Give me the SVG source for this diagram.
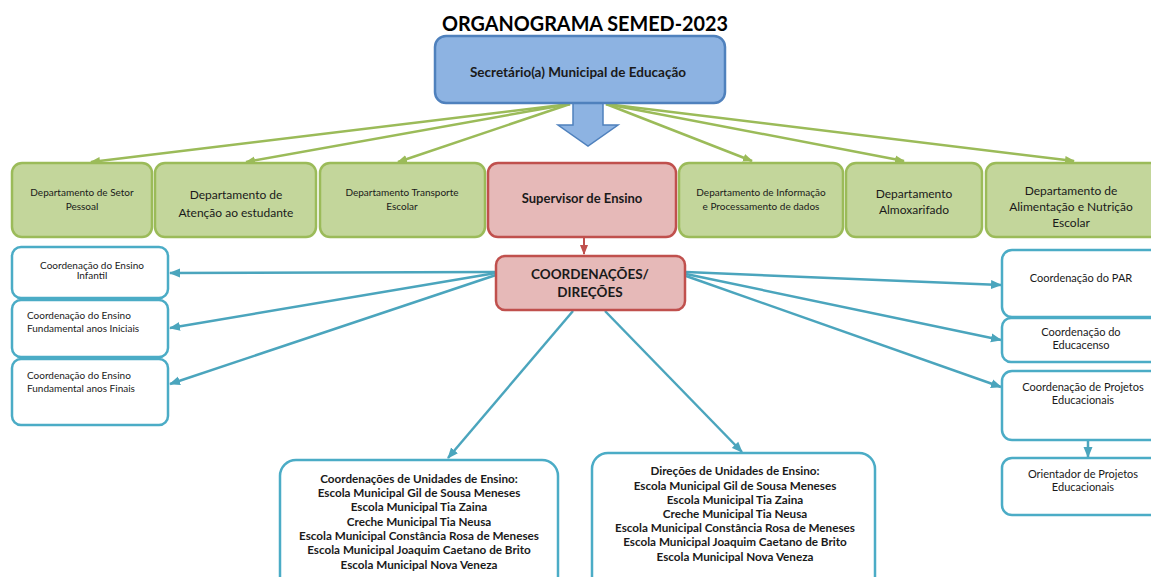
<svg xmlns="http://www.w3.org/2000/svg" width="1151" height="577" viewBox="0 0 1151 577">
<defs>
<style>
text{font-family:Lato,"Open Sans","Liberation Sans",sans-serif;fill:#1a1a1a;text-anchor:middle}
.title{font-size:20px;font-weight:bold;fill:#000}
.b13{font-size:13.5px;font-weight:bold}
.b12{font-size:13px;font-weight:bold}
.n12{font-size:12px}
.n10{font-size:10px}
.n11{font-size:11px}
.b11{font-size:11.7px;font-weight:bold}
.b15{font-size:13.5px;font-weight:bold}
.green{fill:#c3d69b;stroke:#9bbb59;stroke-width:2.5}
.red{fill:#e6b9b8;stroke:#c0504d;stroke-width:2.5}
.blue{fill:#8db3e2;stroke:#4f81bd;stroke-width:2.5}
.teal{fill:#fff;stroke:#4bacc6;stroke-width:2.5}
.gl{stroke:#9bbb59;stroke-width:2.5;fill:none}
.tl{stroke:#4ba5bd;stroke-width:2.5;fill:none}
.rl{stroke:#c0504d;stroke-width:2;fill:none}
.l{text-anchor:start}
</style>
<marker id="ga" markerUnits="userSpaceOnUse" markerWidth="10" markerHeight="10" viewBox="0 0 10 10" refX="9" refY="5" orient="auto"><path d="M0,1 L10,5 L0,9 Z" fill="#9bbb59"/></marker>
<marker id="ta" markerUnits="userSpaceOnUse" markerWidth="11" markerHeight="10" viewBox="0 0 11 10" refX="10" refY="5" orient="auto"><path d="M0,0.5 L11,5 L0,9.5 Z" fill="#4ba5bd"/></marker>
<marker id="ra" markerUnits="userSpaceOnUse" markerWidth="10" markerHeight="10" viewBox="0 0 10 10" refX="9" refY="5" orient="auto"><path d="M0,1 L10,5 L0,9 Z" fill="#c0504d"/></marker>
</defs>
<rect width="1151" height="577" fill="#fff"/>
<text class="title" x="585" y="31" textLength="286" lengthAdjust="spacingAndGlyphs">ORGANOGRAMA SEMED-2023</text>

<g id="connectors">
<path class="gl" d="M570,104 L91,162" marker-end="url(#ga)"/>
<path class="gl" d="M570,104 L246,162" marker-end="url(#ga)"/>
<path class="gl" d="M570,104 L398,162" marker-end="url(#ga)"/>
<path class="gl" d="M606,104 L752,161" marker-end="url(#ga)"/>
<path class="gl" d="M606,104 L904,161" marker-end="url(#ga)"/>
<path class="gl" d="M606,104 L1074,161" marker-end="url(#ga)"/>
<path class="rl" d="M584,238 L584,254" marker-end="url(#ra)"/>
<path class="tl" d="M496,272 L170,273" marker-end="url(#ta)"/>
<path class="tl" d="M496,273 L170,328" marker-end="url(#ta)"/>
<path class="tl" d="M496,275 L170,384" marker-end="url(#ta)"/>
<path class="tl" d="M686,272 L1001,285" marker-end="url(#ta)"/>
<path class="tl" d="M686,274 L1001,340" marker-end="url(#ta)"/>
<path class="tl" d="M686,276 L1001,387" marker-end="url(#ta)"/>
<path class="tl" d="M573,311 L448,458" marker-end="url(#ta)"/>
<path class="tl" d="M605,311 L742,452" marker-end="url(#ta)"/>
<path class="tl" d="M1088,441 L1088,457" marker-end="url(#ta)"/>
<path d="M573,103 L603,103 L603,125 L618,125 L588,146 L558,125 L573,125 Z" fill="#8db3e2" stroke="#4f81bd" stroke-width="1.5"/>
</g>

<g id="n-secretario">
<rect class="blue" x="435" y="36" width="290" height="67" rx="11"/>
<text class="b13" x="578" y="77">Secretário(a) Municipal de Educação</text>
</g>

<g id="n-setor-pessoal">
<rect class="green" x="12" y="163" width="140" height="74" rx="10"/>
<text class="n10" x="82" y="196">Departamento de Setor</text>
<text class="n10" x="82" y="210">Pessoal</text>
</g>
<g id="n-atencao">
<rect class="green" x="155" y="163" width="161" height="74" rx="10"/>
<text class="n12" x="236" y="199">Departamento de</text>
<text class="n12" x="236" y="217">Atenção ao estudante</text>
</g>
<g id="n-transporte">
<rect class="green" x="320" y="163" width="165" height="74" rx="10"/>
<text class="n10" x="402" y="196">Departamento Transporte</text>
<text class="n10" x="402" y="210">Escolar</text>
</g>
<g id="n-supervisor">
<rect class="red" x="488" y="163" width="188" height="74" rx="10"/>
<text class="b12" x="582" y="203">Supervisor de Ensino</text>
</g>
<g id="n-informacao">
<rect class="green" x="679" y="163" width="164" height="74" rx="10"/>
<text class="n10" x="761" y="196">Departamento de Informação</text>
<text class="n10" x="761" y="210">e Processamento de dados</text>
</g>
<g id="n-almoxarifado">
<rect class="green" x="846" y="163" width="136" height="74" rx="10"/>
<text class="n12" x="914" y="198">Departamento</text>
<text class="n12" x="914" y="214">Almoxarifado</text>
</g>
<g id="n-alimentacao">
<rect class="green" x="986" y="163" width="180" height="74" rx="10"/>
<text class="n12" x="1071" y="195">Departamento de</text>
<text class="n12" x="1071" y="211">Alimentação e Nutrição</text>
<text class="n12" x="1071" y="227">Escolar</text>
</g>

<g id="n-coordenacoes">
<rect class="red" x="496" y="256" width="189" height="54" rx="9"/>
<text class="b15" x="590" y="279">COORDENAÇÕES/</text>
<text class="b15" x="590" y="297">DIREÇÕES</text>
</g>

<g id="n-infantil">
<rect class="teal" x="12" y="247" width="156" height="51" rx="9"/>
<text class="n10" x="92" y="269">Coordenação do Ensino</text>
<text class="n10" x="92" y="279">Infantil</text>
</g>
<g id="n-iniciais">
<rect class="teal" x="12" y="300" width="156" height="57" rx="9"/>
<text class="n10 l" x="27" y="319">Coordenação do Ensino</text>
<text class="n10 l" x="27" y="332">Fundamental anos Iniciais</text>
</g>
<g id="n-finais">
<rect class="teal" x="12" y="359" width="156" height="66" rx="9"/>
<text class="n10 l" x="27" y="379">Coordenação do Ensino</text>
<text class="n10 l" x="27" y="392">Fundamental anos Finais</text>
</g>

<g id="n-par">
<rect class="teal" x="1002" y="250" width="165" height="67" rx="10"/>
<text class="n11" x="1081" y="282">Coordenação do PAR</text>
</g>
<g id="n-educacenso">
<rect class="teal" x="1002" y="318" width="165" height="44" rx="9"/>
<text class="n11" x="1081" y="336">Coordenação do</text>
<text class="n11" x="1081" y="349">Educacenso</text>
</g>
<g id="n-projetos">
<rect class="teal" x="1002" y="371" width="165" height="69" rx="10"/>
<text class="n11" x="1083" y="391">Coordenação de Projetos</text>
<text class="n11" x="1083" y="404">Educacionais</text>
</g>
<g id="n-orientador">
<rect class="teal" x="1002" y="458" width="165" height="57" rx="10"/>
<text class="n11" x="1083" y="478">Orientador de Projetos</text>
<text class="n11" x="1083" y="491">Educacionais</text>
</g>

<g id="n-unidades-coord">
<rect class="teal" x="280" y="460" width="278" height="140" rx="16"/>
<text class="b11" x="419" y="483">Coordenações de Unidades de Ensino:</text>
<text class="b11" x="419" y="497">Escola Municipal Gil de Sousa Meneses</text>
<text class="b11" x="419" y="511">Escola Municipal Tia Zaina</text>
<text class="b11" x="419" y="526">Creche Municipal Tia Neusa</text>
<text class="b11" x="419" y="540">Escola Municipal Constância Rosa de Meneses</text>
<text class="b11" x="419" y="554">Escola Municipal Joaquim Caetano de Brito</text>
<text class="b11" x="419" y="569">Escola Municipal Nova Veneza</text>
</g>
<g id="n-unidades-dir">
<rect class="teal" x="592" y="453" width="283" height="147" rx="16"/>
<text class="b11" x="735" y="475">Direções de Unidades de Ensino:</text>
<text class="b11" x="735" y="490">Escola Municipal Gil de Sousa Meneses</text>
<text class="b11" x="735" y="504">Escola Municipal Tia Zaina</text>
<text class="b11" x="735" y="518">Creche Municipal Tia Neusa</text>
<text class="b11" x="735" y="532">Escola Municipal Constância Rosa de Meneses</text>
<text class="b11" x="735" y="546">Escola Municipal Joaquim Caetano de Brito</text>
<text class="b11" x="735" y="561">Escola Municipal Nova Veneza</text>
</g>
</svg>
